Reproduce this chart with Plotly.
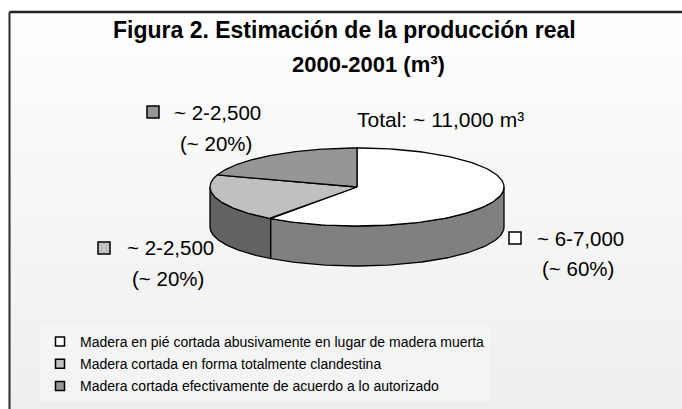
import numpy as np
import plotly.graph_objects as go

# ---------------- data ----------------
categories = [
    "Madera en pié cortada abusivamente en lugar de madera muerta",
    "Madera cortada en forma totalmente clandestina",
    "Madera cortada efectivamente de acuerdo a lo autorizado",
]
shares = [60, 20, 20]                      # percent of total
volume_labels = ["~ 6-7,000", "~ 2-2,500", "~ 2-2,500"]
share_labels = ["(~ 60%)", "(~ 20%)", "(~ 20%)"]
total_label = "Total: ~ 11,000 m³"
title_lines = ["Figura 2. Estimación de la producción real", "2000-2001 (m³)"]

# ---------------- styles ----------------
top_colors = ["#ffffff", "#c0c0c0", "#969696"]
side_colors = ["#808080", "#626262", "#4b4b4b"]
W, H = 682, 409
CX, CY, RX, RY, DEPTH = 357, 187, 147, 39, 40
FONT = "Liberation Sans, Arial, sans-serif"

# label anchor positions (pixel space): square centre, text start, second line centre
label_pos = [
    dict(sq=(515, 238), txt=(535, 238), pct=(578, 268)),
    dict(sq=(104, 248), txt=(125, 247), pct=(168, 278)),
    dict(sq=(153, 112), txt=(172, 112), pct=(216, 143)),
]

fig = go.Figure()


def pt(theta_deg, dy=0.0):
    t = np.radians(theta_deg)
    return CX + RX * np.sin(t), CY - RY * np.cos(t) + dy


# slice angles (clockwise from 12 o'clock)
cum = np.cumsum([0] + shares)
angles = [(cum[i] * 3.6, cum[i + 1] * 3.6) for i in range(len(shares))]

# ---- sides (front half only: 90..270 deg) ----
for i, (a0, a1) in enumerate(angles):
    s0, s1 = max(a0, 90), min(a1, 270)
    if s1 <= s0:
        continue
    th = np.linspace(s0, s1, 80)
    xt, yt = pt(th)
    xb, yb = pt(th[::-1], DEPTH)
    xs = np.concatenate([xt, xb, xt[:1]])
    ys = np.concatenate([yt, yb, yt[:1]])
    fig.add_trace(go.Scatter(x=xs, y=ys, mode="lines", fill="toself",
                             fillcolor=side_colors[i],
                             line=dict(color="black", width=1.3),
                             hoverinfo="skip", showlegend=False))

# ---- top faces ----
for i, (a0, a1) in enumerate(angles):
    th = np.linspace(a0, a1, 120)
    xt, yt = pt(th)
    xs = np.concatenate([[CX], xt, [CX]])
    ys = np.concatenate([[CY], yt, [CY]])
    fig.add_trace(go.Scatter(x=xs, y=ys, mode="lines", fill="toself",
                             fillcolor=top_colors[i],
                             line=dict(color="black", width=1.3),
                             hoverinfo="text", text=f"{categories[i]}: {shares[i]}%",
                             showlegend=False))

# ---- label keys (squares) ----
fig.add_trace(go.Scatter(
    x=[p["sq"][0] for p in label_pos], y=[p["sq"][1] for p in label_pos],
    mode="markers",
    marker=dict(symbol="square", size=12, color=top_colors,
                line=dict(color="black", width=1.5)),
    hoverinfo="skip", showlegend=False))

# ---- legend entries ----
for i, c in enumerate(categories):
    fig.add_trace(go.Scatter(
        x=[None], y=[None], mode="markers", name=c, legendgroup=f"g{i}",
        marker=dict(symbol="square", size=9, color=top_colors[i],
                    line=dict(color="black", width=1.5))))

annotations = []
for i, p in enumerate(label_pos):
    annotations.append(dict(x=p["txt"][0], y=p["txt"][1], text=volume_labels[i],
                            xanchor="left", yanchor="middle", showarrow=False,
                            font=dict(family=FONT, size=20.5, color="black")))
    annotations.append(dict(x=p["pct"][0], y=p["pct"][1], text=share_labels[i],
                            xanchor="center", yanchor="middle", showarrow=False,
                            font=dict(family=FONT, size=20.5, color="black")))
annotations.append(dict(x=355, y=119, text=total_label, xanchor="left", yanchor="middle",
                        showarrow=False, font=dict(family=FONT, size=21, color="black")))
annotations.append(dict(x=344, y=30, text=title_lines[0], xanchor="center", yanchor="middle",
                        showarrow=False, font=dict(family=FONT, size=23, color="black", weight="bold")))
annotations.append(dict(x=368, y=64, text=title_lines[1], xanchor="center", yanchor="middle",
                        showarrow=False, font=dict(family=FONT, size=22, color="black", weight="bold")))

# ---- background gradient + frame ----
FRAME_TOP = 12
shapes = []
nb = 40
top_y, bot_y = FRAME_TOP, H
for k in range(nb):
    y0 = top_y + (bot_y - top_y) * k / nb
    y1 = top_y + (bot_y - top_y) * (k + 1) / nb
    v = int(round(254 - (254 - 238) * (k + 0.5) / nb))
    shapes.append(dict(type="rect", xref="x", yref="y",
                       x0=9, x1=W, y0=y0, y1=y1 + 0.5,
                       fillcolor=f"rgb({v},{v},{v})", line=dict(width=0), layer="below"))
# chart-area frame (its right and bottom edges fall outside the picture)
shapes.append(dict(type="line", xref="x", yref="y", x0=9.5, x1=W, y0=FRAME_TOP, y1=FRAME_TOP,
                   line=dict(color="#222222", width=2.5), layer="above"))
shapes.append(dict(type="line", xref="x", yref="y", x0=9.5, x1=9.5, y0=FRAME_TOP, y1=H,
                   line=dict(color="#2a2a2a", width=2), layer="above"))

fig.update_layout(
    width=W, height=H,
    margin=dict(l=0, r=0, t=0, b=0),
    paper_bgcolor="white", plot_bgcolor="rgba(0,0,0,0)",
    xaxis=dict(range=[0, W], visible=False, fixedrange=True),
    yaxis=dict(range=[H, 0], visible=False, fixedrange=True),
    showlegend=True,
    legend=dict(x=40 / W, y=1 - 326 / H, xanchor="left", yanchor="top",
                bgcolor="rgba(255,255,255,0.3)",
                font=dict(family=FONT, size=14, color="black"),
                itemwidth=30, tracegroupgap=1),
    annotations=annotations,
    shapes=shapes,
)

fig.write_html("out.html", config={"displayModeBar": False},
               post_script="document.body.style.margin='0';")
